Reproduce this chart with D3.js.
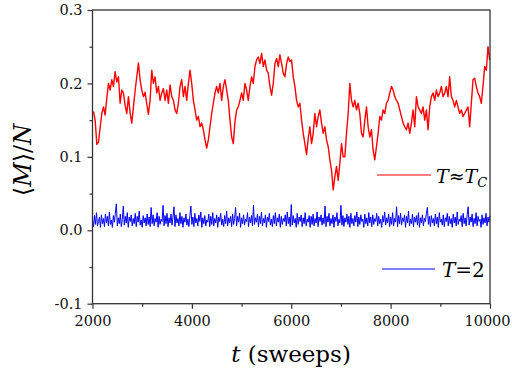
<!DOCTYPE html>
<html>
<head>
<meta charset="utf-8">
<script src="https://cdn.jsdelivr.net/npm/d3@7"></script>
<style>
  body { margin: 0; background: #fff; }
</style>
</head>
<body>
<svg id="chart"></svg>
<script>
// magnetisation per spin vs. Monte Carlo time
const redT0 = 2020;   // first red sample (sweeps)
const redDt = 33.5;   // red sampling interval (sweeps)
const redM = [
  0.162, 0.150, 0.117, 0.120, 0.140, 0.159, 0.168, 0.157, 0.180, 0.200,
  0.191, 0.205, 0.196, 0.216, 0.202, 0.209, 0.173, 0.191, 0.187, 0.170,
  0.159, 0.182, 0.160, 0.146, 0.168, 0.190, 0.209, 0.228, 0.205, 0.191,
  0.182, 0.188, 0.172, 0.158, 0.177, 0.218, 0.200, 0.209, 0.187, 0.196,
  0.177, 0.187, 0.193, 0.177, 0.191, 0.173, 0.198, 0.182, 0.177, 0.164,
  0.159, 0.173, 0.196, 0.205, 0.182, 0.196, 0.177, 0.200, 0.218, 0.200,
  0.177, 0.164, 0.150, 0.155, 0.141, 0.146, 0.137, 0.123, 0.112, 0.123,
  0.141, 0.159, 0.173, 0.187, 0.196, 0.187, 0.200, 0.177, 0.196, 0.205,
  0.191, 0.177, 0.150, 0.127, 0.118, 0.148, 0.164, 0.168, 0.177, 0.187,
  0.177, 0.200, 0.191, 0.177, 0.196, 0.209, 0.200, 0.223, 0.232, 0.236,
  0.227, 0.241, 0.223, 0.232, 0.218, 0.214, 0.196, 0.184, 0.200, 0.227,
  0.234, 0.223, 0.239, 0.227, 0.214, 0.209, 0.227, 0.236, 0.230, 0.232,
  0.209, 0.196, 0.177, 0.168, 0.173, 0.150, 0.132, 0.118, 0.103, 0.125,
  0.141, 0.118, 0.132, 0.159, 0.141, 0.155, 0.164, 0.146, 0.132, 0.141,
  0.123, 0.114, 0.096, 0.082, 0.055, 0.073, 0.087, 0.068, 0.091, 0.118,
  0.100, 0.100, 0.132, 0.159, 0.200, 0.177, 0.168, 0.177, 0.164, 0.173,
  0.159, 0.132, 0.127, 0.150, 0.168, 0.141, 0.127, 0.137, 0.109, 0.096,
  0.114, 0.132, 0.155, 0.150, 0.164, 0.159, 0.173, 0.177, 0.187, 0.196,
  0.191, 0.182, 0.177, 0.173, 0.164, 0.155, 0.146, 0.141, 0.137, 0.146,
  0.132, 0.146, 0.164, 0.141, 0.182, 0.168, 0.164, 0.159, 0.168, 0.150,
  0.164, 0.137, 0.168, 0.182, 0.187, 0.177, 0.191, 0.182, 0.187, 0.196,
  0.182, 0.187, 0.196, 0.182, 0.209, 0.182, 0.177, 0.168, 0.177, 0.168,
  0.159, 0.164, 0.155, 0.159, 0.164, 0.168, 0.141, 0.173, 0.205, 0.207,
  0.196, 0.187, 0.182, 0.173, 0.196, 0.223, 0.218, 0.250, 0.232
];

const blueT0 = 2000;
const blueDt = 20;
const blueM = [
  0.015, 0.005, 0.020, 0.008, 0.024, 0.006, 0.012, 0.018, 0.004, 0.021, 0.009, 0.016, 0.005, 0.022, 0.010, 0.019, 0.006, 0.025, 0.008, 0.014,
  0.004, 0.020, 0.011, 0.023, 0.036, 0.006, 0.017, 0.009, 0.022, 0.005, 0.015, 0.033, 0.007, 0.019, 0.010, 0.024, 0.004, 0.018, 0.012, 0.021,
  0.006, 0.016, 0.009, 0.023, 0.005, 0.019, 0.011, 0.026, 0.007, 0.014, 0.004, 0.020, 0.010, 0.017, 0.006, 0.022, 0.008, 0.018, 0.005, 0.031,
  0.009, 0.021, 0.006, 0.016, 0.011, 0.024, 0.004, 0.019, 0.008, 0.015, 0.012, 0.034, 0.006, 0.020, 0.009, 0.023, 0.005, 0.017, 0.010, 0.022,
  0.007, 0.018, 0.032, 0.005, 0.021, 0.010, 0.016, 0.006, 0.024, 0.009, 0.019, 0.004, 0.017, 0.011, 0.022, 0.007, 0.015, 0.005, 0.020, 0.033,
  0.008, 0.018, 0.005, 0.023, 0.010, 0.016, 0.006, 0.021, 0.012, 0.025, 0.004, 0.017, 0.009, 0.020, 0.006, 0.014, 0.011, 0.022, 0.005, 0.019,
  0.008, 0.024, 0.006, 0.016, 0.010, 0.021, 0.004, 0.018, 0.012, 0.023, 0.007, 0.015, 0.005, 0.020, 0.009, 0.026, 0.006, 0.017, 0.010, 0.019,
  0.005, 0.022, 0.008, 0.016, 0.031, 0.006, 0.019, 0.011, 0.023, 0.004, 0.017, 0.009, 0.021, 0.007, 0.015, 0.012, 0.024, 0.005, 0.018, 0.010,
  0.020, 0.006, 0.034, 0.008, 0.017, 0.011, 0.022, 0.005, 0.019, 0.009, 0.025, 0.006, 0.016, 0.010, 0.021, 0.004, 0.018, 0.012, 0.023, 0.007,
  0.015, 0.005, 0.020, 0.009, 0.024, 0.006, 0.017, 0.011, 0.022, 0.004, 0.019, 0.008, 0.016, 0.012, 0.021, 0.006, 0.025, 0.009, 0.018, 0.005,
  0.035, 0.007, 0.020, 0.010, 0.016, 0.004, 0.023, 0.008, 0.018, 0.012, 0.021, 0.005, 0.017, 0.009, 0.024, 0.006, 0.015, 0.011, 0.020, 0.004,
  0.019, 0.008, 0.022, 0.006, 0.016, 0.010, 0.025, 0.005, 0.018, 0.012, 0.021, 0.007, 0.017, 0.009, 0.033, 0.005, 0.019, 0.011, 0.023, 0.006,
  0.016, 0.009, 0.021, 0.004, 0.018, 0.012, 0.024, 0.006, 0.015, 0.010, 0.034, 0.007, 0.020, 0.005, 0.017, 0.011, 0.022, 0.008, 0.019, 0.004,
  0.023, 0.009, 0.016, 0.006, 0.020, 0.011, 0.025, 0.005, 0.018, 0.008, 0.021, 0.012, 0.015, 0.004, 0.022, 0.009, 0.017, 0.006, 0.024, 0.010,
  0.018, 0.005, 0.021, 0.008, 0.016, 0.012, 0.023, 0.006, 0.019, 0.009, 0.015, 0.004, 0.020, 0.011, 0.025, 0.007, 0.017, 0.010, 0.022, 0.005,
  0.018, 0.008, 0.024, 0.006, 0.016, 0.011, 0.032, 0.005, 0.020, 0.009, 0.023, 0.007, 0.017, 0.012, 0.021, 0.004, 0.019, 0.010, 0.026, 0.006,
  0.015, 0.009, 0.022, 0.005, 0.018, 0.011, 0.020, 0.007, 0.024, 0.004, 0.017, 0.010, 0.021, 0.006, 0.016, 0.012, 0.023, 0.031, 0.008, 0.019,
  0.005, 0.020, 0.010, 0.016, 0.006, 0.022, 0.009, 0.018, 0.004, 0.024, 0.011, 0.015, 0.007, 0.021, 0.005, 0.017, 0.012, 0.023, 0.006, 0.019,
  0.009, 0.016, 0.004, 0.022, 0.010, 0.018, 0.006, 0.025, 0.008, 0.015, 0.012, 0.020, 0.005, 0.023, 0.009, 0.017, 0.006, 0.021, 0.032, 0.007,
  0.018, 0.011, 0.022, 0.005, 0.016, 0.009, 0.024, 0.006, 0.019, 0.012, 0.015, 0.004, 0.021, 0.008, 0.017, 0.010, 0.023, 0.006, 0.018, 0.011,
  0.020
];

const xMajor = [2000, 4000, 6000, 8000, 10000];
const xMinor = [3000, 5000, 7000, 9000];
const yMajor = [-0.1, 0.0, 0.1, 0.2, 0.3];
const yMinor = [-0.05, 0.05, 0.15, 0.25];

const w = 512;
const h = 373;
const padL = 92.5, padR = 490, padT = 10, padB = 303.7;
// Times-style serif is not installed, DejaVu Serif is the closest available
const serif = "DejaVu Serif";

const svg = d3.select("#chart")
    .attr("width", w)
    .attr("height", h);

const xScale = d3.scaleLinear().domain([2000, 10000]).range([padL, padR]);
const yScale = d3.scaleLinear().domain([-0.1, 0.3]).range([padB, padT]);

const redData = redM.map((v, i) => [redT0 + i * redDt, v]);
const blueData = blueM.map((v, i) => [blueT0 + i * blueDt, v]);

const line = d3.line()
    .x(d => xScale(d[0]))
    .y(d => yScale(d[1]));

svg.append("path")
    .datum(blueData)
    .attr("d", line)
    .attr("fill", "none")
    .attr("stroke", "#0000ff")
    .attr("stroke-width", 1);

svg.append("path")
    .datum(redData)
    .attr("d", line)
    .attr("fill", "none")
    .attr("stroke", "#ff0000")
    .attr("stroke-width", 1.4)
    .attr("stroke-linejoin", "round");

// frame
const axisColor = "#333";
svg.append("rect")
    .attr("x", padL).attr("y", padT)
    .attr("width", padR - padL).attr("height", padB - padT)
    .attr("fill", "none")
    .attr("stroke", axisColor)
    .attr("stroke-width", 1.3);

// axes
const fmtY = v => d3.format(".1f")(v).replace("\u2212", "-");

svg.append("g")
    .attr("class", "x-major")
    .attr("transform", `translate(0,${padB})`)
    .call(d3.axisBottom(xScale).tickValues(xMajor).tickSize(5).tickPadding(7).tickFormat(d3.format("d")));
svg.append("g")
    .attr("transform", `translate(0,${padB})`)
    .call(d3.axisBottom(xScale).tickValues(xMinor).tickSize(3).tickFormat(""));

svg.append("g")
    .attr("transform", `translate(${padL},0)`)
    .call(d3.axisLeft(yScale).tickValues(yMajor).tickSize(5).tickPadding(5).tickFormat(fmtY));
svg.append("g")
    .attr("transform", `translate(${padL},0)`)
    .call(d3.axisLeft(yScale).tickValues(yMinor).tickSize(3).tickFormat(""));

svg.selectAll(".domain").remove();
svg.selectAll("g").attr("font-family", serif);
svg.selectAll(".tick line").attr("stroke", axisColor).attr("stroke-width", 1.2);
svg.selectAll(".tick text")
    .attr("font-family", serif)
    .attr("font-size", 14.5)
    .attr("fill", "#111");
// keep the last x label inside the page
svg.selectAll(".x-major .tick text")
    .filter(d => d === 10000)
    .attr("dx", -3);

// axis titles
svg.append("text")
    .attr("x", 291)
    .attr("y", 362)
    .attr("text-anchor", "middle")
    .attr("font-family", serif)
    .attr("font-size", 23)
    .html('<tspan font-style="italic">t</tspan> (sweeps)');

svg.append("text")
    .attr("transform", "translate(31,160) rotate(-90)")
    .attr("text-anchor", "middle")
    .attr("font-family", serif)
    .attr("font-size", 24)
    .html('\u27E8<tspan font-style="italic">M</tspan>\u27E9/<tspan font-style="italic">N</tspan>');

// legend
svg.append("line")
    .attr("x1", 377).attr("x2", 431)
    .attr("y1", 175).attr("y2", 175)
    .attr("stroke", "#ff0000").attr("stroke-width", 1.2);
svg.append("text")
    .attr("x", 436)
    .attr("y", 183)
    .attr("font-family", serif)
    .attr("font-size", 19)
    .attr("font-style", "italic")
    .html('T\u2248T<tspan font-size="13" dy="4">C</tspan>');

svg.append("line")
    .attr("x1", 382).attr("x2", 435)
    .attr("y1", 269).attr("y2", 269)
    .attr("stroke", "#0000ff").attr("stroke-width", 1.2);
svg.append("text")
    .attr("x", 442)
    .attr("y", 277)
    .attr("font-family", serif)
    .attr("font-size", 20)
    .html('<tspan font-style="italic">T</tspan>=2');
</script>
</body>
</html>
